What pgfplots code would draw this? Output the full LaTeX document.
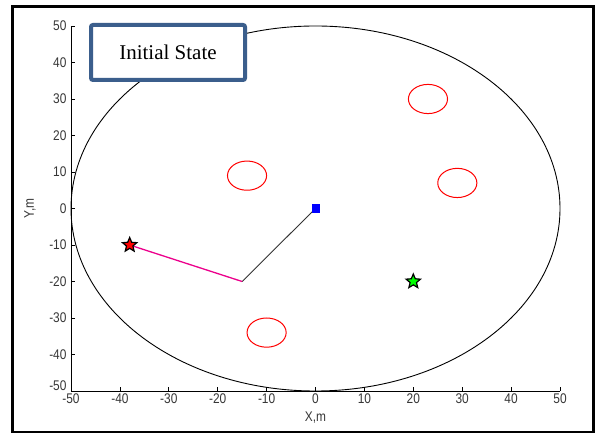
\documentclass[border=0pt]{standalone}
\usepackage{fontspec}
\setmainfont{Liberation Serif}
\newfontfamily\arialn[FakeStretch=0.85]{Liberation Sans}
\usepackage{pgfplots}
\pgfplotsset{compat=1.18}
\definecolor{boxblue}{RGB}{59,94,140}
\definecolor{ticktxt}{RGB}{55,55,55}
\pgfdeclareplotmark{fstar}{%
  \pgfpathmoveto{\pgfpointpolar{90}{\pgfplotmarksize}}%
  \pgfpathlineto{\pgfpointpolar{126}{0.45\pgfplotmarksize}}%
  \pgfpathlineto{\pgfpointpolar{162}{\pgfplotmarksize}}%
  \pgfpathlineto{\pgfpointpolar{198}{0.45\pgfplotmarksize}}%
  \pgfpathlineto{\pgfpointpolar{234}{\pgfplotmarksize}}%
  \pgfpathlineto{\pgfpointpolar{270}{0.45\pgfplotmarksize}}%
  \pgfpathlineto{\pgfpointpolar{306}{\pgfplotmarksize}}%
  \pgfpathlineto{\pgfpointpolar{342}{0.45\pgfplotmarksize}}%
  \pgfpathlineto{\pgfpointpolar{18}{\pgfplotmarksize}}%
  \pgfpathlineto{\pgfpointpolar{54}{0.45\pgfplotmarksize}}%
  \pgfpathclose
  \pgfusepathqfillstroke}
\begin{document}
\begin{tikzpicture}[x=1pt,y=1pt]
\useasboundingbox (0,0) rectangle (596,434);
\fill[white] (0,0) rectangle (596,434);
\draw[line width=2.5pt] (12.7,2) rectangle (593.5,427.3);
\begin{axis}[
  at={(71pt,43pt)}, anchor=south west,
  scale only axis, width=489pt, height=365pt,
  xmin=-50, xmax=50, ymin=-50, ymax=50,
  axis lines=left, axis line style={-, line width=0.8pt},
  xtick={-50,-40,...,50}, ytick={-40,-30,...,50},
  extra y ticks={-50},
  extra y tick style={yticklabel style={yshift=5pt}},
  tick align=inside, major tick length=4pt,
  tick style={line width=0.8pt, black},
  /pgf/number format/assume math mode=true,
  tick label style={font=\arialn\fontsize{14}{14}\selectfont, text=ticktxt},
  xticklabel style={yshift=1pt},
  yticklabel style={xshift=-1pt},
  xlabel={X,m}, ylabel={Y,m},
  every axis x label/.style={at={(axis description cs:0.5,0)}, anchor=center, yshift=-27pt},
  every axis y label/.style={at={(axis description cs:0,0.5)}, anchor=center, rotate=90, yshift=41pt},
  label style={font=\arialn\fontsize{14}{14}\selectfont, text=ticktxt},
  clip=false,
]
\draw[black, line width=0.9pt] (axis cs:0,0) ellipse [x radius=50, y radius=50];
\draw[red, line width=1pt] (axis cs:-14,9) ellipse [x radius=4, y radius=4];
\draw[red, line width=1pt] (axis cs:23,30) ellipse [x radius=4, y radius=4];
\draw[red, line width=1pt] (axis cs:29,7) ellipse [x radius=4, y radius=4];
\draw[red, line width=1pt] (axis cs:-10,-34) ellipse [x radius=4, y radius=4];
\addplot[black!80, line width=0.9pt] coordinates {(0,0) (-15,-20)};
\addplot[magenta, line width=1.3pt] coordinates {(-15,-20) (-38,-10)};
\addplot[only marks, mark=square*, mark size=3.8pt, blue, mark options={draw=blue, fill=blue}] coordinates {(0,0)};
\addplot[only marks, mark=fstar, mark size=7.5pt, mark options={draw=black, fill=red, line width=1.2pt}] coordinates {(-38,-10)};
\addplot[only marks, mark=fstar, mark size=7.5pt, mark options={draw=black, fill=green, line width=1.2pt}] coordinates {(20,-20)};
\end{axis}
\node[draw=boxblue, line width=4pt, rounded corners=2pt, fill=white,
  minimum width=154pt, minimum height=55pt, inner sep=0pt,
  font=\fontsize{21}{21}\selectfont] at (168,381.5) {Initial State};
\end{tikzpicture}
\end{document}
